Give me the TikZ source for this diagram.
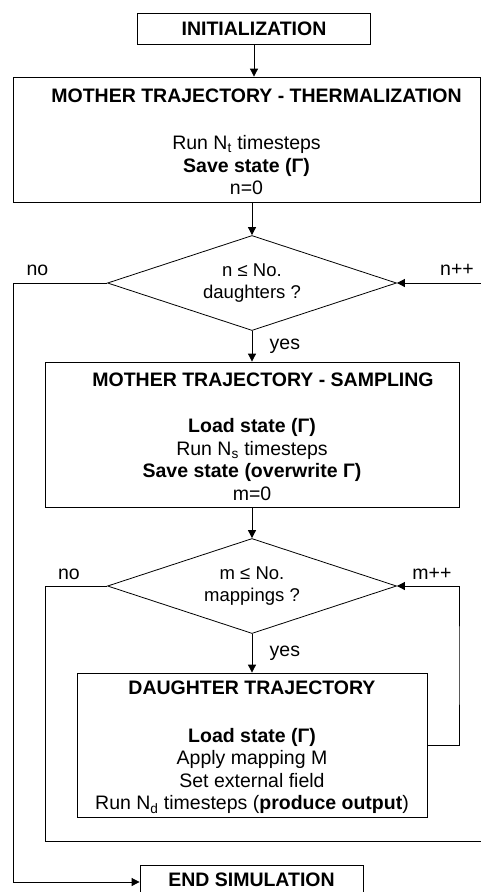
\documentclass[tikz,border=0pt]{standalone}
\usepackage{fontspec}
\setmainfont{Liberation Sans}
\usetikzlibrary{shapes.geometric,arrows.meta}
\begin{document}
\begin{tikzpicture}[x=1pt, y=-1pt, line width=0.8pt, >={Triangle[length=8pt,width=8pt]},
            every node/.style={font=\fontsize{19.5}{22.5}\selectfont},
            box/.style={rectangle, draw, align=center, inner sep=0pt},
            decision/.style={diamond, draw, align=center, inner sep=0pt, aspect=3.04, minimum width=289pt, minimum height=95pt,
                font=\fontsize{18.5}{22.5}\selectfont}]
            \useasboundingbox (0, 0) rectangle (481, 892);

            \node[box, minimum width=233pt, minimum height=31pt] at (254, 28.5) (init) {\textbf{INITIALIZATION}};

            \node[box, minimum width=467pt, minimum height=125pt] at (246.5, 139.5) (mtt) {\rule{0pt}{18pt}\hspace*{20pt}\textbf{MOTHER TRAJECTORY - THERMALIZATION}\\[25pt]
                Run N\textsubscript{t} timesteps\\ \textbf{Save state (Γ)}\\ n=0};

            \node[decision] at (252, 283) (d1) {n ≤ No.\\ daughters ?};

            \node[box, minimum width=414pt, minimum height=145pt] at (252, 434.5) (mts) {\rule{0pt}{18pt}\hspace*{22pt}\textbf{MOTHER TRAJECTORY - SAMPLING}\\[24pt]
                \textbf{Load state (Γ)}\\ Run N\textsubscript{s} timesteps\\ \textbf{Save state (overwrite Γ)}\\ m=0};

            \node[decision] at (252, 586) (d2) {m ≤ No.\\ mappings ?};

            \node[box, minimum width=350pt, minimum height=144pt] at (252, 745) (dt) {\rule{0pt}{19pt}\textbf{DAUGHTER TRAJECTORY}\\[25pt]
                \textbf{Load state (Γ)}\\ Apply mapping M\\ Set external field\\ Run N\textsubscript{d} timesteps (\textbf{produce output})};

            \node[box, minimum width=223pt, minimum height=29pt] at (251.5, 879.5) (fin) {\textbf{END SIMULATION}};

            \node at (37.5, 270) (nNo) {no};
            \node at (457, 270) (nInc) {n++};
            \node at (69, 574) (mNo) {no};
            \node at (432, 574) (mInc) {m++};

            \coordinate (nIn) at (481, 283);
            \coordinate (nOut) at (13, 882);
            \coordinate (mOut) at (45, 841);
            \coordinate (mEnd) at (481, 841);
            \coordinate (mLoop) at (459, 665);

            \draw[->] (init.south) -- (init.south |- mtt.north);
            \draw[->] (mtt.south -| d1.north) -- (d1.north);
            \draw[->] (d1.south) -- (mts.north) node[midway, right=14pt] (nYes) {yes};
            \draw[->] (mts.south) -- (d2.north);
            \draw[->] (d2.south) -- (dt.north) node[midway, right=14pt] (mYes) {yes};
            \draw[->] (nIn) -- (d1.east);
            \draw[->] (d1.west) -| (nOut) -- (nOut -| fin.west);
            \draw (d2.west) -| (mOut) -- (mEnd);
            \draw[->] (dt.east) -| (mLoop) |- (d2.east);
        \end{tikzpicture}
\end{document}
